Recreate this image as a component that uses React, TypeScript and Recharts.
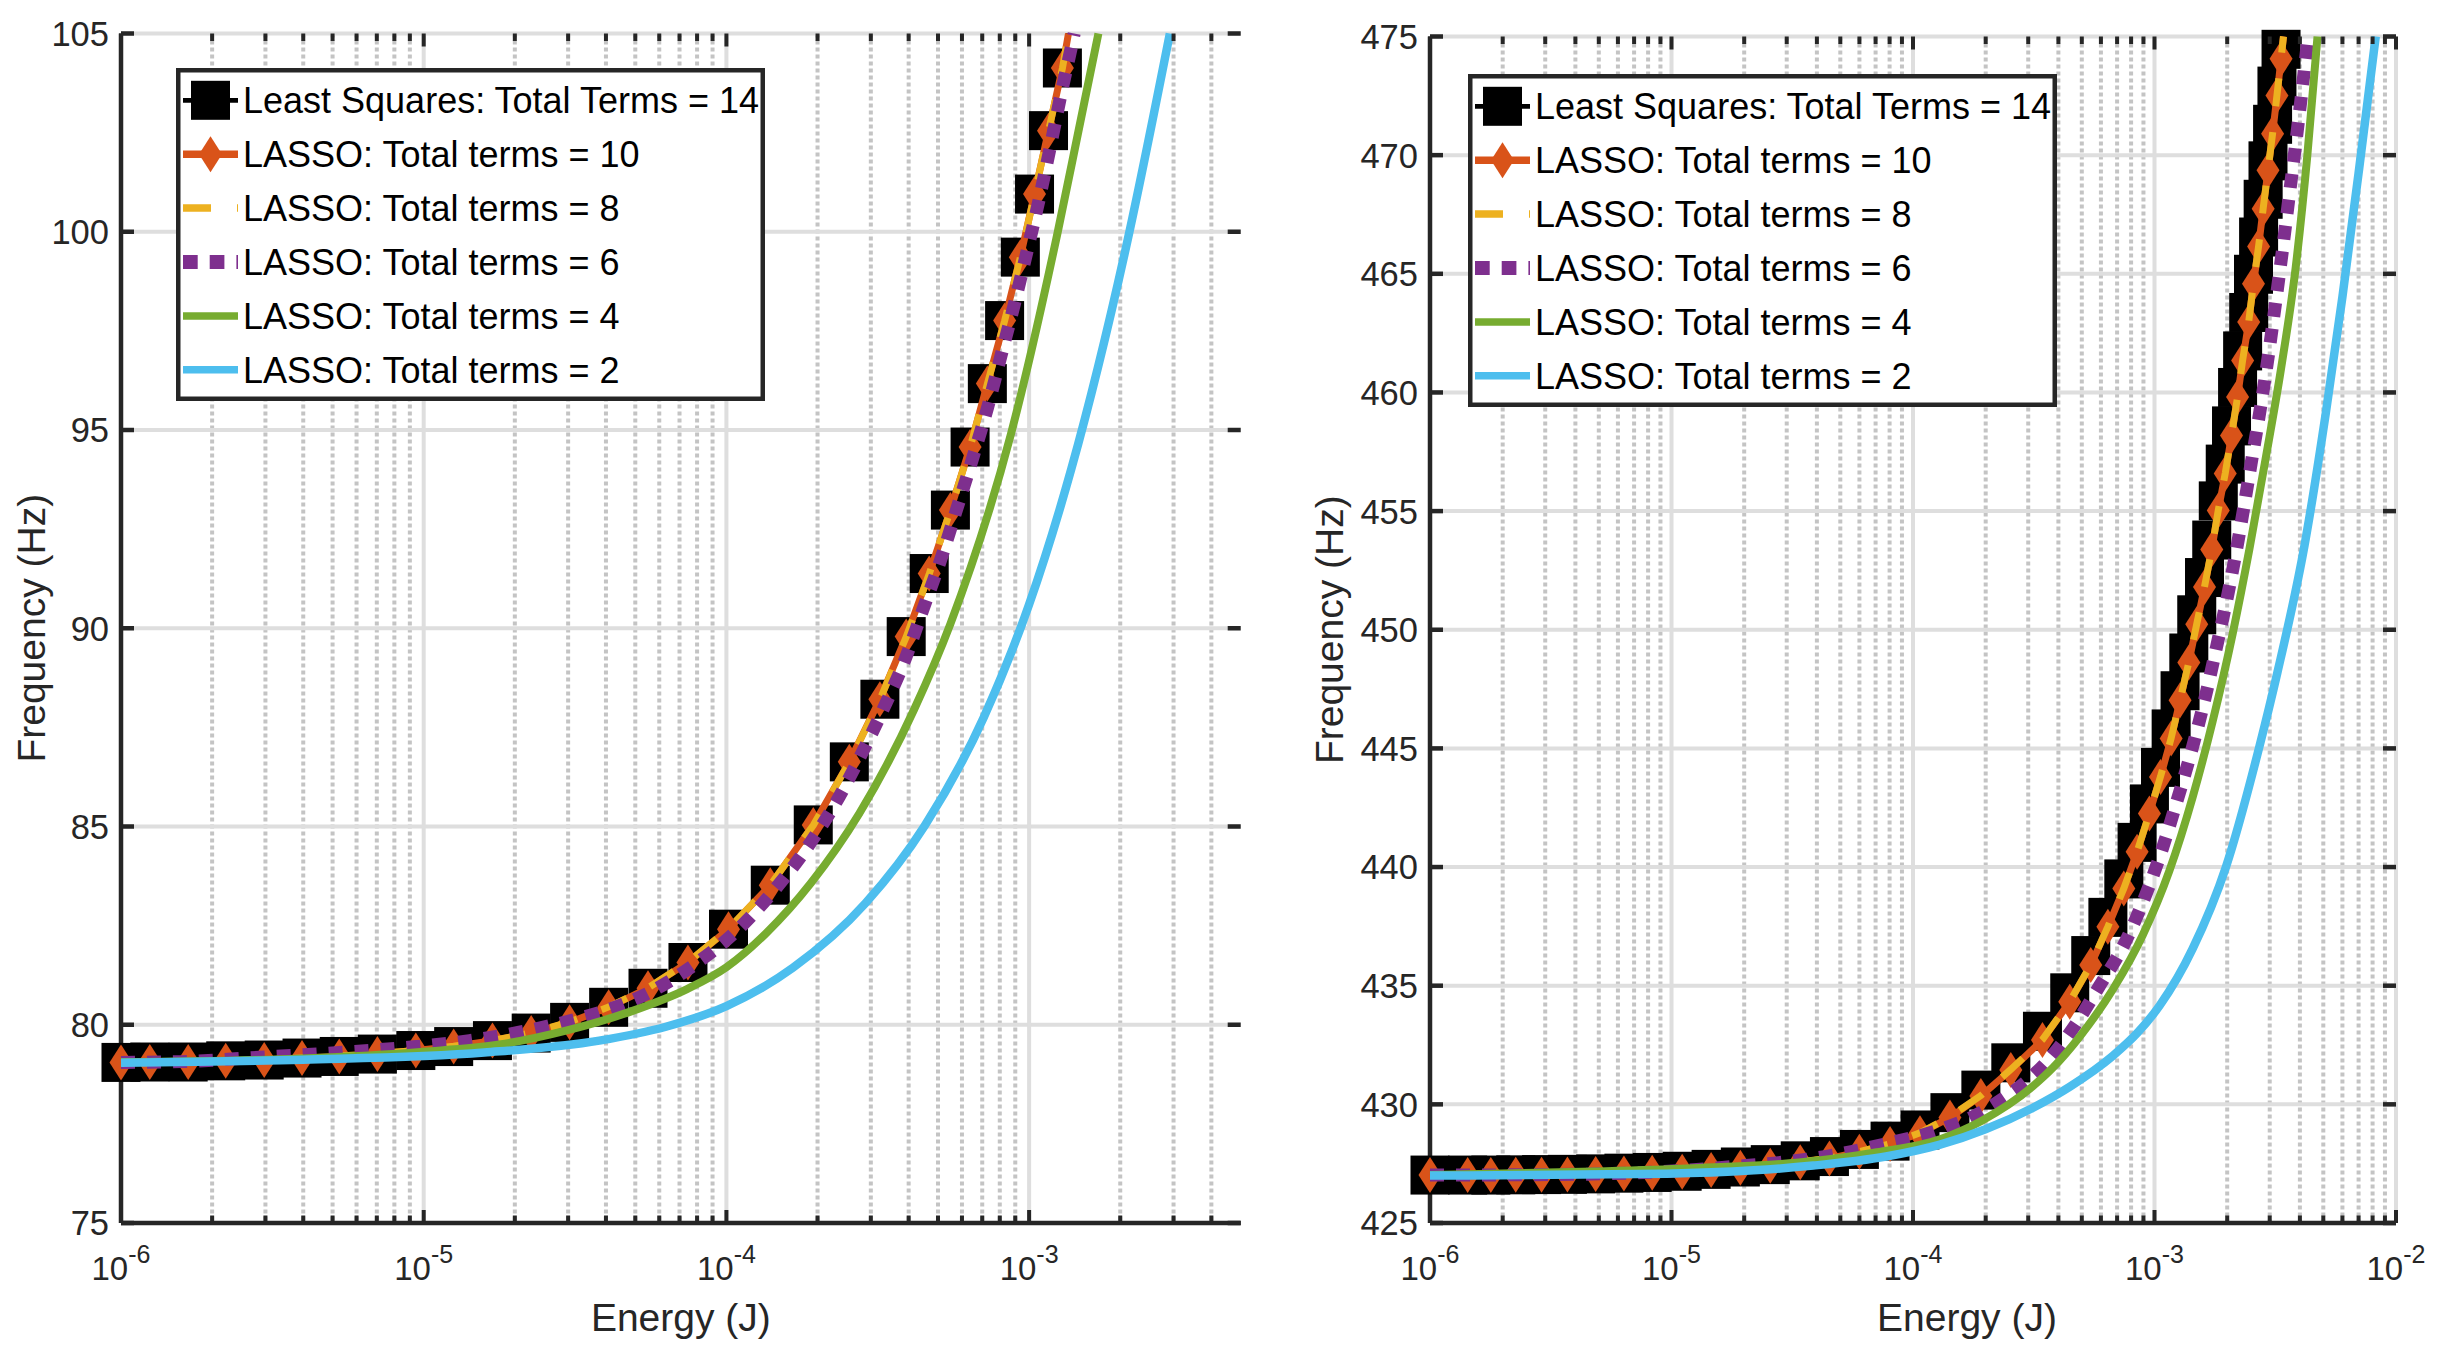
import React from "react";
import { ComposedChart, Line, Scatter, XAxis, YAxis, CartesianGrid, Legend } from "recharts";

const ORANGE = "#D95319";
const YELLOW = "#EDB120";
const PURPLE = "#7E2F8E";
const GREEN = "#77AC30";
const BLUE = "#4DBEEE";
const AXIS = "#262626";
const GRID = "#dedede";
const GRID_MINOR = "#c4c4c4";
const FONT = '"Liberation Sans", Arial, Helvetica, sans-serif';

const NAMES = [
  "Least Squares: Total Terms = 14",
  "LASSO: Total terms = 10",
  "LASSO: Total terms = 8",
  "LASSO: Total terms = 6",
  "LASSO: Total terms = 4",
  "LASSO: Total terms = 2",
];

// ---------- left panel ----------
const L_Y_TICKS = [75, 80, 85, 90, 95, 100, 105];
const L_X_DOMAIN = [1e-6, 5e-3];
const L_X_MAJOR = [1e-6, 1e-5, 1e-4, 1e-3];
const L_X_MINOR = [
  2e-6, 3e-6, 4e-6, 5e-6, 6e-6, 7e-6, 8e-6, 9e-6,
  2e-5, 3e-5, 4e-5, 5e-5, 6e-5, 7e-5, 8e-5, 9e-5,
  2e-4, 3e-4, 4e-4, 5e-4, 6e-4, 7e-4, 8e-4, 9e-4,
  2e-3, 3e-3, 4e-3,
];

// sampled energies (markers of LS and LASSO 10)
const L_MARK_E = [
  1.0e-6, 1.245e-6, 1.667e-6, 2.218e-6, 2.972e-6, 3.963e-6, 5.26e-6, 7.031e-6,
  9.419e-6, 1.256e-5, 1.687e-5, 2.265e-5, 3.034e-5, 4.083e-5, 5.508e-5, 7.464e-5,
  1.016e-4, 1.396e-4, 1.936e-4, 2.547e-4, 3.214e-4, 3.926e-4, 4.677e-4, 5.495e-4,
  6.383e-4, 7.278e-4, 8.299e-4, 9.354e-4, 1.042e-3, 1.159e-3, 1.288e-3,
];
const L_LS_F = [
  79.05, 79.06, 79.06, 79.09, 79.11, 79.16, 79.2, 79.26, 79.35, 79.45, 79.6,
  79.79, 80.06, 80.44, 80.92, 81.57, 82.41, 83.52, 85.04, 86.63, 88.21, 89.79,
  91.38, 92.98, 94.57, 96.17, 97.76, 99.36, 100.95, 102.55, 104.13,
];
const L_LS_EXIT = [1.349e-3, 105];
const L_L10_F = [
  79.05, 79.06, 79.06, 79.09, 79.11, 79.16, 79.2, 79.26, 79.35, 79.45, 79.6,
  79.79, 80.06, 80.44, 80.92, 81.57, 82.41, 83.52, 85.04, 86.63, 88.21, 89.79,
  91.38, 92.98, 94.57, 96.17, 97.76, 99.36, 100.95, 102.55, 104.13,
];
const L_L10_EXIT = [1.349e-3, 105];
const L_L8_F = [
  79.05, 79.06, 79.07, 79.09, 79.12, 79.16, 79.21, 79.27, 79.35, 79.46, 79.6,
  79.8, 80.07, 80.45, 80.93, 81.58, 82.42, 83.52, 85.03, 86.62, 88.2, 89.78,
  91.37, 92.97, 94.56, 96.16, 97.75, 99.35, 100.94, 102.54, 104.12,
];
const L_L8_EXIT = [1.35e-3, 105];
const L_L6_E = [
  1.0e-6, 1.585e-6, 2.864e-6, 5.26e-6, 9.441e-6, 1.416e-5, 2.128e-5, 3.112e-5,
  3.89e-5, 5.649e-5, 7.925e-5, 1.084e-4, 1.426e-4, 1.832e-4, 2.286e-4, 2.761e-4,
  3.296e-4, 3.89e-4, 4.457e-4, 5.105e-4, 5.768e-4, 6.516e-4, 7.311e-4, 8.091e-4,
  8.954e-4, 9.84e-4, 1.079e-3, 1.175e-3, 1.274e-3, 1.387e-3, 1.409e-3,
];
const L_L6_F = [
  79.05, 79.07, 79.18, 79.3, 79.45, 79.6, 79.83, 80.12, 80.33, 80.84, 81.54,
  82.38, 83.36, 84.43, 85.57, 86.75, 87.96, 89.21, 90.47, 91.73, 93.01, 94.3,
  95.6, 96.9, 98.2, 99.5, 100.81, 102.14, 103.46, 104.75, 105.0,
];
const L_L4_E = [
  1.0e-6, 3.981e-6, 1.0e-5, 1.778e-5, 2.951e-5, 4.898e-5, 7.413e-5, 1.0e-4,
  1.349e-4, 1.905e-4, 2.754e-4, 4.169e-4, 5.495e-4, 8.71e-4, 1.242e-3, 1.452e-3,
  1.694e-3,
];
const L_L4_F = [
  79.06, 79.15, 79.32, 79.5, 79.85, 80.35, 80.9, 81.45, 82.3, 83.58, 85.34, 87.95,
  90.11, 94.9, 99.98, 102.5, 105.0,
];
const L_L2_E = [
  1.0e-6, 3.981e-6, 1.585e-5, 3.802e-5, 6.31e-5, 1.0e-4, 1.66e-4, 2.884e-4,
  4.519e-4, 7.079e-4, 1.0e-3, 1.38e-3, 2.089e-3, 2.917e-3,
];
const L_L2_F = [
  79.04, 79.12, 79.3, 79.6, 79.95, 80.47, 81.44, 83.07, 85.02, 87.75, 90.6, 94.03,
  99.6, 105.0,
];

// ---------- right panel ----------
const R_Y_TICKS = [425, 430, 435, 440, 445, 450, 455, 460, 465, 470, 475];
const R_X_DOMAIN = [1e-6, 1e-2];
const R_X_MAJOR = [1e-6, 1e-5, 1e-4, 1e-3, 1e-2];
const R_X_MINOR = [
  2e-6, 3e-6, 4e-6, 5e-6, 6e-6, 7e-6, 8e-6, 9e-6,
  2e-5, 3e-5, 4e-5, 5e-5, 6e-5, 7e-5, 8e-5, 9e-5,
  2e-4, 3e-4, 4e-4, 5e-4, 6e-4, 7e-4, 8e-4, 9e-4,
  2e-3, 3e-3, 4e-3, 5e-3, 6e-3, 7e-3, 8e-3, 9e-3,
];

const R_MARK_E = [
  1.0e-6, 1.432e-6, 1.786e-6, 2.265e-6, 2.897e-6, 3.707e-6, 4.853e-6, 6.353e-6,
  8.318e-6, 1.107e-5, 1.459e-5, 1.928e-5, 2.564e-5, 3.412e-5, 4.508e-5, 5.998e-5,
  8.035e-5, 1.069e-4, 1.422e-4, 1.91e-4, 2.541e-4, 3.436e-4, 4.457e-4, 5.445e-4,
  6.412e-4, 7.464e-4, 8.472e-4, 9.528e-4, 1.059e-3, 1.172e-3, 1.276e-3, 1.387e-3,
  1.496e-3, 1.611e-3, 1.726e-3, 1.837e-3, 1.963e-3, 2.084e-3, 2.208e-3, 2.317e-3,
  2.455e-3, 2.57e-3, 2.698e-3, 2.818e-3, 2.951e-3, 3.083e-3, 3.214e-3, 3.342e-3,
];
const R_LS_F = [
  427.02, 427.02, 427.02, 427.03, 427.04, 427.05, 427.07, 427.1, 427.13, 427.18,
  427.26, 427.36, 427.46, 427.62, 427.8, 428.1, 428.45, 428.92, 429.65, 430.6,
  431.75, 433.08, 434.7, 436.27, 437.88, 439.5, 441.04, 442.66, 444.2, 445.82,
  447.43, 449.02, 450.63, 452.2, 453.78, 455.43, 456.98, 458.59, 460.21, 461.75,
  463.37, 464.98, 466.55, 468.14, 469.76, 471.3, 472.91, 474.46,
];
const R_LS_EXIT = [3.388e-3, 475];
const R_L10_F = [
  427.02, 427.02, 427.02, 427.03, 427.03, 427.04, 427.06, 427.09, 427.12, 427.16,
  427.23, 427.33, 427.41, 427.56, 427.72, 428.0, 428.33, 428.78, 429.45, 430.35,
  431.45, 432.71, 434.32, 435.87, 437.48, 439.1, 440.64, 442.26, 443.8, 445.42,
  447.03, 448.62, 450.23, 451.8, 453.38, 455.03, 456.58, 458.19, 459.81, 461.35,
  462.97, 464.58, 466.15, 467.74, 469.36, 470.9, 472.51, 474.06,
];
const R_L10_EXIT = [3.42e-3, 475];
const R_L8_F = [
  427.02, 427.02, 427.02, 427.03, 427.03, 427.04, 427.06, 427.09, 427.12, 427.17,
  427.24, 427.33, 427.42, 427.57, 427.73, 428.01, 428.34, 428.8, 429.47, 430.37,
  431.47, 432.73, 434.33, 435.88, 437.49, 439.1, 440.65, 442.27, 443.81, 445.43,
  447.04, 448.63, 450.24, 451.81, 453.39, 455.04, 456.59, 458.2, 459.82, 461.36,
  462.98, 464.59, 466.16, 467.75, 469.37, 470.91, 472.52, 474.07,
];
const R_L8_EXIT = [3.42e-3, 475];
const R_L6_E = [
  1.0e-6, 3.162e-6, 1.057e-5, 1.754e-5, 2.864e-5, 4.688e-5, 7.656e-5, 1.253e-4,
  1.786e-4, 2.366e-4, 3.126e-4, 3.622e-4, 4.592e-4, 5.929e-4, 7.396e-4, 8.954e-4,
  1.067e-3, 1.23e-3, 1.419e-3, 1.611e-3, 1.807e-3, 2.009e-3, 2.208e-3, 2.512e-3,
  2.761e-3, 2.985e-3, 3.184e-3, 3.388e-3, 3.614e-3, 3.793e-3, 3.972e-3, 4.169e-3,
  4.325e-3,
];
const R_L6_F = [
  427.02, 427.04, 427.2, 427.37, 427.56, 427.86, 428.33, 428.89, 429.5, 430.25,
  431.2, 431.85, 433.2, 435.0, 436.64, 438.53, 440.64, 442.68, 444.85, 447.03,
  449.28, 451.45, 453.63, 457.0, 459.5, 461.8, 463.9, 466.0, 468.3, 470.0, 471.7,
  473.55, 475.0,
];
const R_L4_E = [
  1.0e-6, 4.764e-6, 1.161e-5, 3.981e-5, 7.079e-5, 1.294e-4, 1.919e-4, 3.126e-4,
  3.802e-4, 4.898e-4, 6.73e-4, 8.954e-4, 1.153e-3, 1.439e-3, 1.742e-3, 2.109e-3,
  2.472e-3, 2.884e-3, 3.342e-3, 3.846e-3, 4.295e-3, 4.732e-3,
];
const R_L4_F = [
  427.02, 427.17, 427.3, 427.62, 427.98, 428.53, 429.3, 430.75, 431.55, 432.85,
  434.85, 437.15, 439.85, 442.95, 446.15, 449.85, 453.4, 457.2, 461.0, 465.3, 470.0,
  475.0,
];
const R_L2_E = [
  1.0e-6, 9.528e-6, 2.188e-5, 3.864e-5, 7.727e-5, 1.294e-4, 1.995e-4, 3.126e-4,
  4.467e-4, 6.73e-4, 8.511e-4, 1.05e-3, 1.439e-3, 1.977e-3, 2.716e-3, 3.228e-3,
  4.169e-3, 5.117e-3, 5.998e-3, 7.031e-3, 8.241e-3,
];
const R_L2_F = [
  427.0, 427.08, 427.22, 427.42, 427.8, 428.3, 428.95, 429.85, 430.75, 432.05,
  433.02, 434.16, 436.56, 440.01, 445.06, 448.2, 453.49, 459.11, 464.02, 469.4,
  475.0,
];

type Pt = { e: number; f: number };
const pts = (e: number[], f: number[]): Pt[] => e.map((v, i) => ({ e: v, f: f[i] }));
const withExit = (e: number[], f: number[], exit: number[]): Pt[] => [
  ...pts(e, f),
  { e: exit[0], f: exit[1] },
];

const squareShape = (p: any) => (
  <rect x={p.cx - 19.5} y={p.cy - 19.5} width={39} height={39} fill="#000" />
);
const diamondShape = (p: any) => (
  <polygon
    points={`${p.cx},${p.cy - 18} ${p.cx + 11.5},${p.cy} ${p.cx},${p.cy + 18} ${p.cx - 11.5},${p.cy}`}
    fill={ORANGE}
  />
);

const LEG_W = 589;
const LEG_H = 333;
const LEG_STYLE = [
  { color: "#000", width: 4.7, dash: undefined, marker: "square" },
  { color: ORANGE, width: 7.5, dash: undefined, marker: "diamond" },
  { color: YELLOW, width: 7.5, dash: "28 26", marker: "" },
  { color: PURPLE, width: 14, dash: "14.7 12", marker: "" },
  { color: GREEN, width: 7.5, dash: undefined, marker: "" },
  { color: BLUE, width: 7.5, dash: undefined, marker: "" },
];

function LegendBox() {
  return (
    <svg width={LEG_W} height={LEG_H} style={{ display: "block", fontFamily: FONT }}>
      <rect x={2.25} y={2.25} width={LEG_W - 4.5} height={LEG_H - 4.5} fill="#fff" stroke={AXIS} strokeWidth={4.5} />
      {NAMES.map((name, i) => {
        const s = LEG_STYLE[i];
        const cy = 32.3 + i * 53.9;
        const mx = 34.5;
        return (
          <g key={name}>
            <line x1={7} x2={62} y1={cy} y2={cy} stroke={s.color} strokeWidth={s.width} strokeDasharray={s.dash} />
            {s.marker === "square" && <rect x={mx - 19.5} y={cy - 19.5} width={39} height={39} fill="#000" />}
            {s.marker === "diamond" && (
              <polygon
                points={`${mx},${cy - 18} ${mx + 11.5},${cy} ${mx},${cy + 18} ${mx - 11.5},${cy}`}
                fill={ORANGE}
              />
            )}
            <text x={67} y={cy} dy="0.36em" fontSize={36} fill="#000">
              {name}
            </text>
          </g>
        );
      })}
    </svg>
  );
}

interface PanelProps {
  left: number;
  width: number;
  plotLeft: number;
  plotRight: number;
  plotTop: number;
  plotBottom: number;
  xDomain: number[];
  xMajor: number[];
  xMinor: number[];
  yTicks: number[];
  yLabelX: number;
  xLabelShift: number;
  legendX: number;
  legendY: number;
  ls: Pt[];
  lsMarks: Pt[];
  l10: Pt[];
  l10Marks: Pt[];
  l8: Pt[];
  l6: Pt[];
  l4: Pt[];
  l2: Pt[];
}

function Panel(p: PanelProps) {
  const H = 1363;
  const plotW = p.plotRight - p.plotLeft;
  const plotH = p.plotBottom - p.plotTop;
  const xTicks = [...p.xMajor, ...p.xMinor].sort((a, b) => a - b);
  const yDomain = [p.yTicks[0], p.yTicks[p.yTicks.length - 1]];

  const xTick = (t: any) => {
    const v = t.payload.value;
    const major = p.xMajor.includes(v);
    const len = major ? 13 : 7.5;
    const exp = Math.round(Math.log10(v));
    return (
      <g>
        <line x1={t.x} x2={t.x} y1={t.y} y2={t.y - len} stroke={AXIS} strokeWidth={4} />
        <line x1={t.x} x2={t.x} y1={t.y - plotH} y2={t.y - plotH + len} stroke={AXIS} strokeWidth={4} />
        {major && (
          <text x={t.x} y={t.y + 57} textAnchor="middle" fill={AXIS} fontSize={33}>
            <tspan>10</tspan>
            <tspan dy={-17} fontSize={25}>{`${exp}`}</tspan>
          </text>
        )}
      </g>
    );
  };

  const yTick = (t: any) => (
    <g>
      <line x1={t.x} x2={t.x + 13} y1={t.y} y2={t.y} stroke={AXIS} strokeWidth={4.5} />
      <line x1={t.x + plotW - 13} x2={t.x + plotW} y1={t.y} y2={t.y} stroke={AXIS} strokeWidth={4.5} />
      <text x={t.x - 12} y={t.y} dy="0.36em" textAnchor="end" fill={AXIS} fontSize={34.5}>
        {t.payload.value}
      </text>
    </g>
  );

  const xLabel = (lp: any) => {
    const vb = lp.viewBox;
    return (
      <text x={vb.x + vb.width / 2 + p.xLabelShift} y={vb.y + 108} textAnchor="middle" fill={AXIS} fontSize={39}>
        Energy (J)
      </text>
    );
  };
  const yLabel = (lp: any) => {
    const vb = lp.viewBox;
    const x = vb.x + p.yLabelX;
    const y = vb.y + vb.height / 2;
    return (
      <text x={x} y={y} transform={`rotate(-90, ${x}, ${y})`} textAnchor="middle" fill={AXIS} fontSize={39}>
        Frequency (Hz)
      </text>
    );
  };

  const noAnim = { isAnimationActive: false } as const;

  return (
    <div style={{ position: "absolute", left: p.left, top: 0 }}>
      <ComposedChart
        width={p.width}
        height={H}
        margin={{ top: p.plotTop, right: p.left + p.width - p.plotRight, bottom: 0, left: 0 }}
      >
        <CartesianGrid
          horizontal={false}
          verticalValues={p.xMinor}
          stroke={GRID_MINOR}
          strokeWidth={4}
          strokeDasharray="4 3"
        />
        <CartesianGrid verticalValues={p.xMajor} horizontalValues={p.yTicks} stroke={GRID} strokeWidth={4} />
        <XAxis
          type="number"
          dataKey="e"
          scale="log"
          domain={p.xDomain}
          ticks={xTicks}
          interval={0}
          tickSize={0}
          tickMargin={0}
          height={H - p.plotBottom}
          axisLine={{ stroke: AXIS, strokeWidth: 4.5 }}
          tickLine={false}
          tick={xTick}
          label={{ content: xLabel }}
        />
        <XAxis
          xAxisId="top"
          orientation="top"
          type="number"
          scale="log"
          domain={p.xDomain}
          allowDataOverflow
          height={0}
          tick={false}
          tickLine={false}
          axisLine={{ stroke: AXIS, strokeWidth: 4.5 }}
        />
        <YAxis
          type="number"
          dataKey="f"
          domain={yDomain}
          ticks={p.yTicks}
          interval={0}
          width={p.plotLeft - p.left}
          tickSize={0}
          tickMargin={0}
          axisLine={{ stroke: AXIS, strokeWidth: 4.5 }}
          tickLine={false}
          tick={yTick}
          label={{ content: yLabel }}
        />
        <YAxis
          yAxisId="right"
          orientation="right"
          type="number"
          domain={yDomain}
          allowDataOverflow
          width={0}
          tick={false}
          tickLine={false}
          axisLine={{ stroke: AXIS, strokeWidth: 4.5 }}
        />

        <Line data={p.ls} dataKey="f" type="linear" stroke="#000" strokeWidth={4.7} dot={false} activeDot={false} zIndex={601} {...noAnim} />
        <Scatter data={p.lsMarks} dataKey="f" shape={squareShape} zIndex={602} {...noAnim} />
        <Line data={p.l10} dataKey="f" type="linear" stroke={ORANGE} strokeWidth={7} dot={false} activeDot={false} zIndex={603} {...noAnim} />
        <Scatter data={p.l10Marks} dataKey="f" shape={diamondShape} zIndex={604} {...noAnim} />
        <Line data={p.l8} dataKey="f" type="linear" stroke={YELLOW} strokeWidth={7} strokeDasharray="28 26" dot={false} activeDot={false} zIndex={605} {...noAnim} />
        <Line data={p.l6} dataKey="f" type="monotone" stroke={PURPLE} strokeWidth={13} strokeDasharray="14 12" dot={false} activeDot={false} zIndex={606} {...noAnim} />
        <Line data={p.l4} dataKey="f" type="monotone" stroke={GREEN} strokeWidth={8} dot={false} activeDot={false} zIndex={607} {...noAnim} />
        <Line data={p.l2} dataKey="f" type="monotone" stroke={BLUE} strokeWidth={8.5} dot={false} activeDot={false} zIndex={608} {...noAnim} />

        <Legend
          layout="horizontal"
          verticalAlign="middle"
          align="center"
          content={() => <LegendBox />}
          wrapperStyle={{ left: p.legendX, top: p.legendY, width: LEG_W, height: LEG_H }}
        />
      </ComposedChart>
    </div>
  );
}

export default function App() {
  return (
    <div
      style={{
        position: "absolute",
        left: 0,
        top: 0,
        width: 2449,
        height: 1363,
        background: "#fff",
        fontFamily: FONT,
        overflow: "hidden",
      }}
    >
      <Panel
        left={0}
        width={1262}
        plotLeft={121}
        plotRight={1240.7}
        plotTop={33.5}
        plotBottom={1223}
        xDomain={L_X_DOMAIN}
        xMajor={L_X_MAJOR}
        xMinor={L_X_MINOR}
        yTicks={L_Y_TICKS}
        yLabelX={45}
        xLabelShift={0}
        legendX={176}
        legendY={68}
        ls={withExit(L_MARK_E, L_LS_F, L_LS_EXIT)}
        lsMarks={pts(L_MARK_E, L_LS_F)}
        l10={withExit(L_MARK_E, L_L10_F, L_L10_EXIT)}
        l10Marks={pts(L_MARK_E, L_L10_F)}
        l8={withExit(L_MARK_E, L_L8_F, L_L8_EXIT)}
        l6={pts(L_L6_E, L_L6_F)}
        l4={pts(L_L4_E, L_L4_F)}
        l2={pts(L_L2_E, L_L2_F)}
      />
      <Panel
        left={1290}
        width={1159}
        plotLeft={1430}
        plotRight={2396}
        plotTop={36.5}
        plotBottom={1223}
        xDomain={R_X_DOMAIN}
        xMajor={R_X_MAJOR}
        xMinor={R_X_MINOR}
        yTicks={R_Y_TICKS}
        yLabelX={53}
        xLabelShift={54}
        legendX={178}
        legendY={74}
        ls={withExit(R_MARK_E, R_LS_F, R_LS_EXIT)}
        lsMarks={pts(R_MARK_E, R_LS_F)}
        l10={withExit(R_MARK_E, R_L10_F, R_L10_EXIT)}
        l10Marks={pts(R_MARK_E, R_L10_F)}
        l8={withExit(R_MARK_E, R_L8_F, R_L8_EXIT)}
        l6={pts(R_L6_E, R_L6_F)}
        l4={pts(R_L4_E, R_L4_F)}
        l2={pts(R_L2_E, R_L2_F)}
      />
    </div>
  );
}
